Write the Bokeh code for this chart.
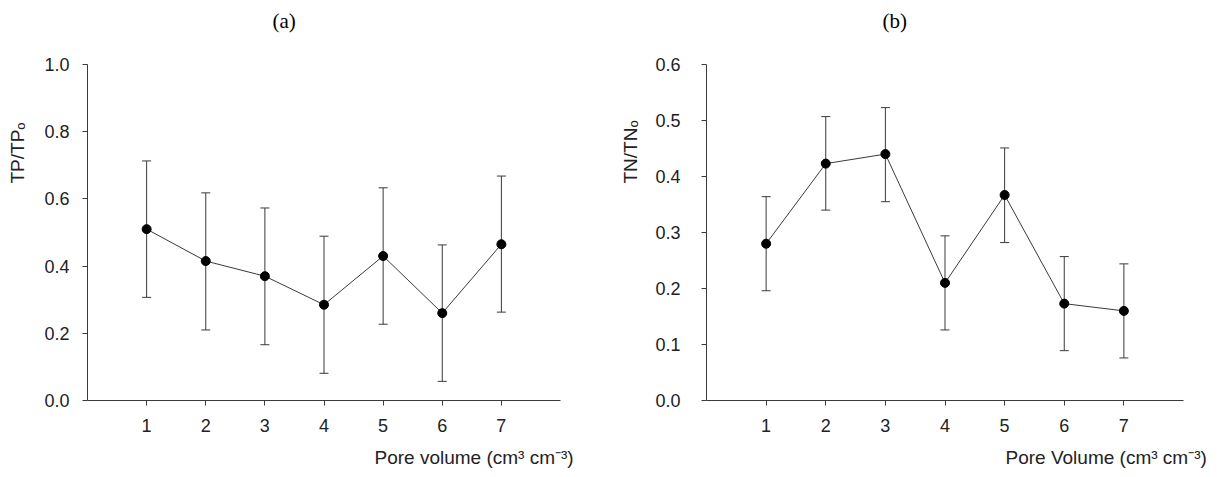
from bokeh.plotting import figure
from bokeh.layouts import row
from bokeh.models import (Range1d, FixedTicker, PrintfTickFormatter, Whisker, TeeHead,
                          ColumnDataSource, Title)
from bokeh.embed import file_html
from bokeh.resources import INLINE

# ---- data ----
pore_volume = [1, 2, 3, 4, 5, 6, 7]
tp_ratio = [0.510, 0.415, 0.370, 0.285, 0.430, 0.260, 0.465]
tp_upper = [0.713, 0.618, 0.573, 0.489, 0.633, 0.463, 0.668]
tp_lower = [0.307, 0.210, 0.166, 0.081, 0.227, 0.057, 0.263]
tn_ratio = [0.280, 0.423, 0.440, 0.210, 0.367, 0.173, 0.160]
tn_upper = [0.364, 0.507, 0.523, 0.294, 0.451, 0.257, 0.244]
tn_lower = [0.196, 0.340, 0.355, 0.126, 0.282, 0.089, 0.076]
x_ticks = [1, 2, 3, 4, 5, 6, 7]
tp_ticks = [0.0, 0.2, 0.4, 0.6, 0.8, 1.0]
tn_ticks = [0.0, 0.1, 0.2, 0.3, 0.4, 0.5, 0.6]

AX = "#3a3a3a"
TXT = "#222222"
SANS = "Liberation Sans"
H = 477


def spacer(size):
    # an empty title used only to leave a gap in a side panel
    return Title(text=" ", text_font_size="1px", text_line_height=1.0, standoff=size)


def make_panel(width, bl, br, bt, bb, ymax, yticks, xs, ys, up, lo,
               title, title_off, top_gap,
               ylab, ylab_off, left_gap, ylab_stand, ytick_stand,
               xlab, xlab_off, xlab_stand):
    p = figure(width=width, height=H, output_backend="svg", toolbar_location=None,
               x_range=Range1d(0, 8), y_range=Range1d(0, ymax),
               min_border_left=bl, min_border_right=br, min_border_top=bt, min_border_bottom=bb)
    p.outline_line_color = None
    p.xgrid.visible = False
    p.ygrid.visible = False
    for ax in (p.xaxis[0], p.yaxis[0]):
        ax.axis_line_color = AX
        ax.major_tick_line_color = AX
        ax.major_tick_out = 5
        ax.major_tick_in = 0
        ax.minor_tick_line_color = None
        ax.major_label_text_font = SANS
        ax.major_label_text_font_size = "18px"
        ax.major_label_text_color = TXT
    p.xaxis.ticker = FixedTicker(ticks=x_ticks)
    p.yaxis.ticker = FixedTicker(ticks=yticks)
    p.yaxis.formatter = PrintfTickFormatter(format="%.1f")
    p.xaxis.major_label_standoff = 13
    p.yaxis.major_label_standoff = ytick_stand

    src = ColumnDataSource(dict(x=xs, y=ys, up=up, lo=lo))
    w = Whisker(base="x", upper="up", lower="lo", source=src, dimension="height",
                line_color=AX, line_width=1,
                upper_head=TeeHead(size=9, line_color=AX, line_width=1),
                lower_head=TeeHead(size=9, line_color=AX, line_width=1))
    p.add_layout(w)
    p.line("x", "y", source=src, line_color=AX, line_width=1)
    p.scatter("x", "y", source=src, size=9, fill_color="black", line_color="black")

    p.add_layout(spacer(top_gap), "above")
    p.add_layout(Title(text=title, align="left", offset=title_off, standoff=10,
                       text_font="Liberation Serif", text_font_size="21px",
                       text_font_style="normal", text_color="black"), "above")
    if left_gap > 0:
        p.add_layout(spacer(left_gap), "left")
    p.add_layout(Title(text=ylab, align="left", offset=ylab_off, standoff=ylab_stand,
                       text_font=SANS, text_font_size="19px",
                       text_font_style="normal", text_color=TXT), "left")
    p.add_layout(Title(text=xlab, align="left", offset=xlab_off, standoff=xlab_stand,
                       text_font=SANS, text_font_size="19px",
                       text_font_style="normal", text_color=TXT), "below")
    return p


pa = make_panel(606, 87, 46, 64, 75, 1.0, tp_ticks, pore_volume, tp_ratio, tp_upper, tp_lower,
                "(a)", 185, 24,
                "TP/TPₒ", 217, 10, 2, 13,
                "Pore volume (cm³ cm⁻³)", 287, 20)
pb = make_panel(612, 97, 35, 64, 75, 0.6, tn_ticks, pore_volume, tn_ratio, tn_upper, tn_lower,
                "(b)", 176, 24,
                "TN/TNₒ", 217, 0, 23, 21,
                "Pore Volume (cm³ cm⁻³)", 299, 20)

layout = row(pa, pb)
open("out.html", "w").write(file_html(layout, INLINE))
